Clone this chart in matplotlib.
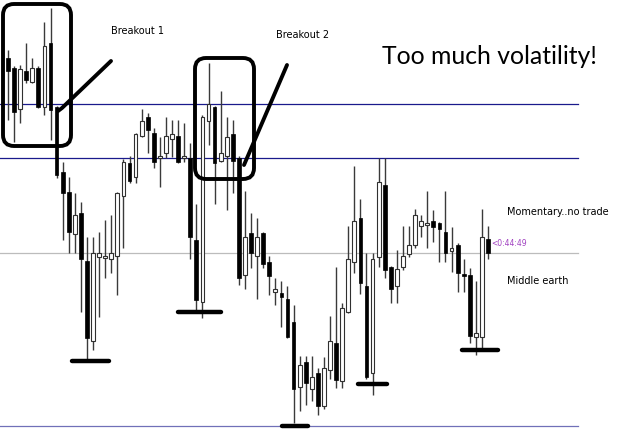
import matplotlib
matplotlib.use('Agg')
import matplotlib.pyplot as plt
from matplotlib.patches import FancyBboxPatch
import numpy as np

# OHLC (price scale runs top-down, like screen rows)
opens  = [58, 68, 109, 71, 82, 68, 107, 43, 107, 172,
          192, 234, 213, 261, 341, 257, 256, 259, 256, 196,
          163, 177, 136, 117, 133, 158, 153, 139, 136, 158,
          158, 240, 302, 121, 107, 161, 156, 134, 158, 275,
          233, 256, 233, 262, 292, 293, 299, 322, 387, 362,
          389, 373, 406, 370, 343, 381, 312, 262, 218, 286,
          373, 257, 185, 267, 286, 267, 254, 245, 226, 223,
          221, 223, 232, 251, 245, 274, 275, 337, 337, 239]
highs  = [50, 66, 65, 43, 58, 66, 22, 8, 106, 162,
          177, 193, 202, 237, 237, 232, 220, 215, 192, 159,
          156, 133, 109, 113, 128, 137, 117, 120, 120, 123,
          143, 204, 115, 63, 106, 91, 117, 120, 156, 191,
          213, 218, 232, 256, 278, 281, 286, 305, 356, 356,
          356, 368, 357, 316, 267, 303, 226, 166, 199, 253,
          253, 158, 158, 266, 250, 226, 226, 209, 215, 191,
          210, 222, 191, 227, 243, 259, 268, 281, 209, 226]
lows   = [120, 142, 123, 83, 83, 108, 115, 140, 178, 240,
          253, 253, 312, 361, 350, 317, 278, 273, 295, 248,
          183, 183, 137, 153, 168, 187, 158, 157, 163, 162,
          259, 313, 318, 145, 204, 162, 210, 193, 285, 289,
          268, 299, 268, 295, 305, 327, 338, 423, 411, 405,
          401, 415, 409, 379, 388, 388, 313, 273, 294, 379,
          395, 267, 278, 303, 303, 270, 257, 248, 237, 248,
          242, 262, 262, 272, 292, 292, 343, 355, 348, 259]
closes = [71, 112, 69, 80, 68, 107, 46, 110, 175, 193,
          232, 215, 259, 338, 253, 253, 256, 253, 193, 162,
          181, 134, 121, 130, 162, 156, 136, 134, 162, 156,
          237, 300, 117, 104, 163, 153, 137, 161, 278, 237,
          253, 237, 264, 276, 289, 297, 337, 389, 365, 383,
          377, 406, 368, 341, 380, 308, 259, 221, 283, 377,
          259, 182, 270, 289, 269, 256, 245, 215, 221, 223,
          227, 229, 253, 248, 273, 276, 336, 333, 237, 253]

# horizontal levels
resistance = [104, 158]
middle = 253
floor_level = 426

# hand-drawn "low" markers: (from candle, to candle, level)
marker_from = [10.5, 28.0, 45.1, 57.6, 74.7]
marker_to   = [16.6, 35.1, 49.4, 62.4, 80.6]
marker_lvl  = [361, 312, 426, 384, 350]

opens, highs, lows, closes = map(np.array, (opens, highs, lows, closes))
idx = np.arange(len(opens))
bull = closes <= opens   # screen rows: smaller = higher price

fig = plt.figure(figsize=(6.25, 4.46), dpi=100)
fig.patch.set_facecolor('white')
ax = fig.add_axes([0, 0, 1, 1])
step = 6.076
ax.set_xlim(-8 / step, 617 / step)
ax.set_ylim(446, 0)
ax.axis('off')

# level lines
line_end = 578 / 625
for lv in resistance:
    ax.axhline(lv, xmax=line_end, color='#1a1a8c', lw=0.9, zorder=1)
ax.axhline(middle, xmax=line_end, color='#bcbcbc', lw=0.9, zorder=1)
ax.axhline(floor_level, xmax=line_end, color='#7070b8', lw=0.9, zorder=1)

# candles
ax.vlines(idx, highs, lows, color='#3a3a3a', lw=1.0, zorder=2)
body_lo = np.minimum(opens, closes)
body_h = np.maximum(np.abs(closes - opens), 1.5)
ax.bar(idx[bull], body_h[bull], bottom=body_lo[bull], width=0.62,
       color='white', edgecolor='#303030', linewidth=0.8, zorder=3)
ax.bar(idx[~bull], body_h[~bull], bottom=body_lo[~bull], width=0.62,
       color='black', edgecolor='black', linewidth=0.5, zorder=3)

# markers under the lows
ax.hlines(marker_lvl, marker_from, marker_to, color='black', lw=3.2,
          zorder=4, capstyle='round')

# annotation layer in screen pixels
ov = fig.add_axes([0, 0, 1, 1])
ov.set_xlim(0, 625)
ov.set_ylim(446, 0)
ov.axis('off')
ov.patch.set_alpha(0)

for (x0, y0, x1, y1) in [(3, 4, 71, 146), (195, 58, 254, 179)]:
    ov.add_patch(FancyBboxPatch((x0 + 11, y0 + 11), x1 - x0 - 22, y1 - y0 - 22,
                                boxstyle='round,pad=11', fill=False,
                                ec='black', lw=2.8, zorder=5))

ov.plot([58, 62, 111], [111, 108, 61], color='black', lw=2.8,
        solid_capstyle='round', zorder=5)
ov.plot([244, 287], [165, 65], color='black', lw=2.8,
        solid_capstyle='round', zorder=5)

ov.text(111, 31, 'Breakout 1', fontsize=7, family='DejaVu Sans',
        ha='left', va='center', color='black')
ov.text(276, 35, 'Breakout 2', fontsize=7, family='DejaVu Sans',
        ha='left', va='center', color='black')
ov.text(382, 56, 'Too much volatility!', fontsize=17.8, family='Lato',
        ha='left', va='center', color='black')
ov.text(507, 212, 'Momentary..no trade', fontsize=7, family='DejaVu Sans',
        ha='left', va='center', color='black')
ov.text(507, 281, 'Middle earth', fontsize=7, family='DejaVu Sans',
        ha='left', va='center', color='black')
ov.text(491, 244, '<0:44:49', fontsize=5.5, family='DejaVu Sans',
        ha='left', va='center', color='#a040c0')

fig.savefig('out.png', dpi=100, facecolor='white')
